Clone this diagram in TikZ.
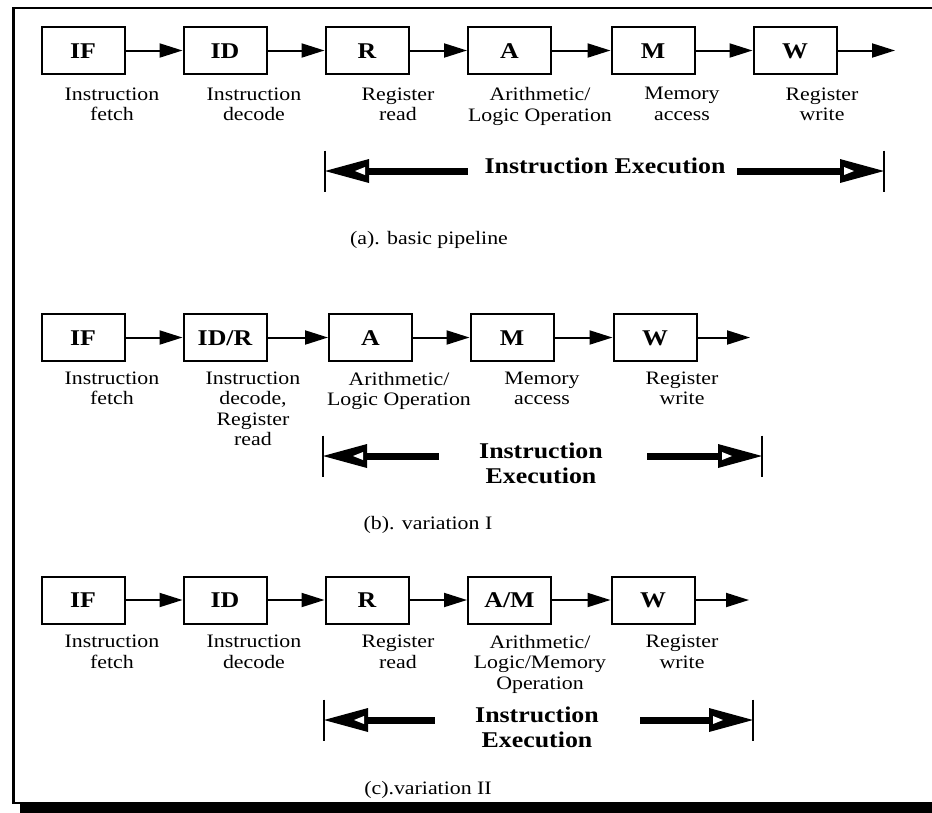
\documentclass[tikz,border=0pt]{standalone}
\usepackage{fontspec}
\setmainfont{Liberation Serif}[FakeStretch=1.15]
\usetikzlibrary{arrows.meta}

% Double-headed "Instruction Execution" span:
% #1 left tip, #2 end of left bar, #3 start of right bar, #4 right tip
\newcommand\execspan[4]{%
  \draw[spantick] ([yshift=20.5pt]#1) -- ([yshift=-20.5pt]#1);
  \draw[spanbar] ([xshift=40pt]#1) -- (#2);
  \draw[spanbar] (#3) -- ([xshift=-40pt]#4);
  \fill (#1) -- ++(44,-12) -- ++(0,24) -- cycle;
  \fill[white] ([xshift=30pt]#1) -- ++(10,-4) -- ++(0,8) -- cycle;
  \draw[spantick] ([yshift=20.5pt]#4) -- ([yshift=-20.5pt]#4);
  \fill (#4) -- ++(-44,-12) -- ++(0,24) -- cycle;
  \fill[white] ([xshift=-30pt]#4) -- ++(-10,-4) -- ++(0,8) -- cycle;
}

\begin{document}
\begin{tikzpicture}[x=1pt,y=-1pt,
  stage/.style={draw, line width=2pt, minimum width=83pt, minimum height=47pt,
    inner sep=0pt, text height=15.2pt, text depth=0pt,
    font=\fontsize{22.5}{25}\selectfont\bfseries},
  lbl/.style={anchor=north, inner sep=0pt, align=center,
    font=\fontsize{19}{20.5}\selectfont},
  exectext/.style={anchor=north, inner sep=0pt, align=center,
    font=\fontsize{22.5}{25}\selectfont\bfseries},
  caption/.style={anchor=base, inner sep=0pt, font=\fontsize{19}{20.5}\selectfont},
  flow/.style={line width=2pt, -{Triangle[length=23pt,width=14pt]}},
  spanbar/.style={line width=7pt},
  spantick/.style={line width=2pt}]

\useasboundingbox (0,0) rectangle (932,812);
\fill[white] (0,0) rectangle (932,812);

% frame with drop shadow
\fill[black] (20,803) rectangle (950,815);
\draw[line width=2.8pt] (13.3,8) rectangle (950,803);

% ---------------- (a) basic pipeline ----------------
\node[stage] (aIF) at (83,50.5)    {IF};
\node[stage] (aID) at (225,50.5)   {ID};
\node[stage] (aR)  at (367,50.5)   {R};
\node[stage] (aA)  at (509.5,50.5) {A};
\node[stage] (aM)  at (653,50.5)   {M};
\node[stage] (aW)  at (795,50.5)   {W};
\coordinate (aEnd) at (895,50.5);
\draw[flow] (aIF) -- (aID);
\draw[flow] (aID) -- (aR);
\draw[flow] (aR) -- (aA);
\draw[flow] (aA) -- (aM);
\draw[flow] (aM) -- (aW);
\draw[flow] (aW) -- (aEnd);

\node[lbl] (aIFl) at (112,87.3) {Instruction\\fetch};
\node[lbl] (aIDl) at (254,87.3) {Instruction\\decode};
\node[lbl] (aRl)  at (398,87.3) {Register\\read};
\node[lbl] (aAl)  at (540,87.3) {Arithmetic/\\Logic Operation};
\node[lbl] (aMl)  at (682,87.3) {Memory\\access};
\node[lbl] (aWl)  at (822,87.3) {Register\\write};

\coordinate (aLt) at (325,171);
\coordinate (aLe) at (468,171);
\coordinate (aRs) at (737,171);
\coordinate (aRt) at (884,171);
\execspan{aLt}{aLe}{aRs}{aRt}
\node[exectext] (aExec) at (605,158) {Instruction Execution};

\node[caption] (aCap) at (429,244) {(a). basic pipeline};

% ---------------- (b) variation I ----------------
\node[stage] (bIF)  at (83,337.5)    {IF};
\node[stage] (bIDR) at (225,337.5)   {ID/R};
\node[stage] (bA)   at (370.5,337.5) {A};
\node[stage] (bM)   at (512,337.5)   {M};
\node[stage] (bW)   at (655,337.5)   {W};
\coordinate (bEnd) at (750,337.5);
\draw[flow] (bIF) -- (bIDR);
\draw[flow] (bIDR) -- (bA);
\draw[flow] (bA) -- (bM);
\draw[flow] (bM) -- (bW);
\draw[flow] (bW) -- (bEnd);

\node[lbl] (bIFl)  at (112,371.7) {Instruction\\fetch};
\node[lbl] (bIDRl) at (253,371.7) {Instruction\\decode,\\Register\\read};
\node[lbl] (bAl)   at (399,371.7) {Arithmetic/\\Logic Operation};
\node[lbl] (bMl)   at (542,371.7) {Memory\\access};
\node[lbl] (bWl)   at (682,371.7) {Register\\write};

\coordinate (bLt) at (323,456);
\coordinate (bLe) at (439,456);
\coordinate (bRs) at (647,456);
\coordinate (bRt) at (762,456);
\execspan{bLt}{bLe}{bRs}{bRt}
\node[exectext] (bExec) at (541,443) {Instruction\\Execution};

\node[caption] (bCap) at (428,529) {(b). variation I};

% ---------------- (c) variation II ----------------
\node[stage] (cIF) at (83,600)    {IF};
\node[stage] (cID) at (225,600)   {ID};
\node[stage] (cR)  at (367,600)   {R};
\node[stage] (cAM) at (509.5,600) {A/M};
\node[stage] (cW)  at (653,600)   {W};
\coordinate (cEnd) at (749,600);
\draw[flow] (cIF) -- (cID);
\draw[flow] (cID) -- (cR);
\draw[flow] (cR) -- (cAM);
\draw[flow] (cAM) -- (cW);
\draw[flow] (cW) -- (cEnd);

\node[lbl] (cIFl) at (112,635) {Instruction\\fetch};
\node[lbl] (cIDl) at (254,635) {Instruction\\decode};
\node[lbl] (cRl)  at (398,635) {Register\\read};
\node[lbl] (cAMl) at (540,635) {Arithmetic/\\Logic/Memory\\Operation};
\node[lbl] (cWl)  at (682,635) {Register\\write};

\coordinate (cLt) at (324,720);
\coordinate (cLe) at (435,720);
\coordinate (cRs) at (640,720);
\coordinate (cRt) at (753,720);
\execspan{cLt}{cLe}{cRs}{cRt}
\node[exectext] (cExec) at (537,707) {Instruction\\Execution};

\node[caption] (cCap) at (428,794) {(c).variation II};

\end{tikzpicture}
\end{document}
